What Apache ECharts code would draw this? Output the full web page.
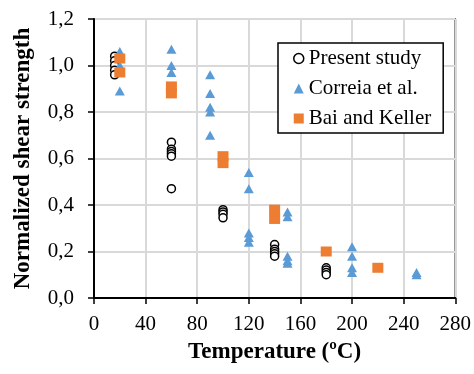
<!DOCTYPE html>
<html>
<head>
<meta charset="utf-8">
<script src="https://cdn.jsdelivr.net/npm/echarts@6/dist/echarts.min.js"></script>
<style>html,body{margin:0;padding:0;background:#fff}#c{width:474px;height:374px}</style>
</head>
<body>
<div id="c"></div>
<script>
// Present study
var presentT = [16,16,16,16,16, 60,60,60,60,60,60, 100,100,100,100, 140,140,140,140,140, 180,180,180,180];
var presentV = [1.04,1.02,1.00,0.98,0.96, 0.67,0.64,0.63,0.62,0.61,0.47, 0.38,0.37,0.36,0.345, 0.23,0.21,0.20,0.19,0.18, 0.13,0.12,0.11,0.10];
// Correia et al.
var correiaT = [20,20,20, 60,60,60, 90,90,90,90,90, 120,120,120,120,120, 150,150,150,150,150, 200,200,200,200, 250,250];
var correiaV = [1.06,1.00,0.89, 1.07,1.00,0.97, 0.96,0.88,0.82,0.80,0.70, 0.54,0.47,0.28,0.26,0.24, 0.37,0.35,0.18,0.16,0.15, 0.22,0.18,0.13,0.11, 0.11,0.10];
// Bai and Keller
var baiT = [20,20, 60,60, 100,100, 140,140, 180, 220];
var baiV = [1.03,0.97, 0.91,0.88, 0.61,0.58, 0.38,0.34, 0.20, 0.13];

var xTicks = [0,40,80,120,160,200,240,280];
var yTicks = [0,0.2,0.4,0.6,0.8,1.0,1.2];

function pairs(t,v){return t.map(function(x,i){return [x,v[i]];});}
var FONT = '"Liberation Serif", "Times New Roman", serif';
var chart = echarts.init(document.getElementById('c'));
chart.setOption({
  animation:false,
  textStyle:{fontFamily:FONT},
  grid:{left:94,right:18,top:19,bottom:76,show:true,borderColor:'#000',borderWidth:1.3,backgroundColor:'transparent'},
  xAxis:{type:'value',min:xTicks[0],max:xTicks[xTicks.length-1],interval:40,
    name:'Temperature (ºC)',nameLocation:'middle',nameGap:43,
    nameTextStyle:{fontFamily:FONT,fontWeight:'bold',fontSize:23,color:'#000'},
    axisLine:{show:true,onZero:false,lineStyle:{color:'#000',width:2}},
    axisTick:{show:true,length:6,lineStyle:{color:'#000',width:1.5}},
    axisLabel:{fontFamily:FONT,fontSize:21,color:'#000',margin:16},
    splitLine:{show:true,lineStyle:{color:'#d9d9d9',width:2}}},
  yAxis:{type:'value',min:yTicks[0],max:yTicks[yTicks.length-1],interval:0.2,
    name:'Normalized shear strength',nameLocation:'middle',nameGap:59,
    nameTextStyle:{fontFamily:FONT,fontWeight:'bold',fontSize:23,color:'#000'},
    axisLine:{show:true,onZero:false,lineStyle:{color:'#000',width:2}},
    axisTick:{show:true,length:6,lineStyle:{color:'#000',width:1.5}},
    axisLabel:{fontFamily:FONT,fontSize:21,color:'#000',margin:20,
      formatter:function(v){return v.toFixed(1).replace('.',',');}},
    splitLine:{show:true,lineStyle:{color:'#d9d9d9',width:2}}},
  legend:{left:278,top:43,orient:'vertical',
    backgroundColor:'#fff',borderColor:'#000',borderWidth:1.5,
    padding:[5,12,4,15],itemGap:9,itemWidth:10,itemHeight:10,
    textStyle:{fontFamily:FONT,fontSize:21,color:'#000',lineHeight:20},
    data:[
      {name:'Present study',icon:'circle',itemStyle:{color:'#fff',borderColor:'#000',borderWidth:1.5}},
      {name:'Correia et al.',icon:'triangle'},
      {name:'Bai and Keller',icon:'rect'}
    ]},
  series:[
    {name:'Present study',type:'scatter',symbol:'circle',symbolSize:8,
      itemStyle:{color:'#fff',borderColor:'#000',borderWidth:1.5,opacity:1},
      data:pairs(presentT,presentV)},
    {name:'Correia et al.',type:'scatter',symbol:'triangle',symbolSize:[10,9],
      itemStyle:{color:'#5b9bd5',opacity:1},data:pairs(correiaT,correiaV)},
    {name:'Bai and Keller',type:'scatter',symbol:'rect',symbolSize:[11,10],
      itemStyle:{color:'#ed7d31',opacity:1},data:pairs(baiT,baiV)}
  ]
});
</script>
</body>
</html>
